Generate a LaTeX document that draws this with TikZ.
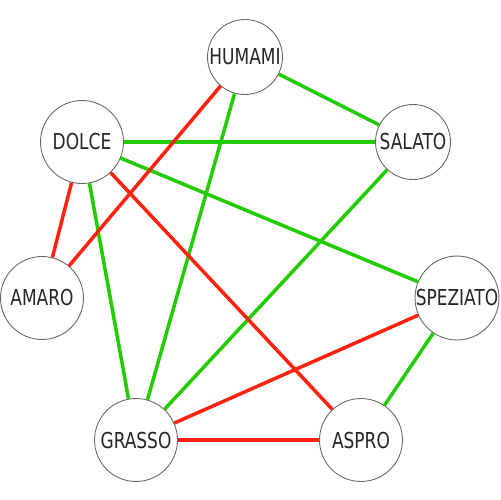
\documentclass[tikz,border=0pt]{standalone}
\usepackage{fontspec}
\setmainfont[FakeStretch=0.86]{DejaVu Sans Condensed}
\usetikzlibrary{positioning}
\definecolor{verde}{HTML}{22CC00}
\definecolor{rosso}{HTML}{FF2211}
\definecolor{testo}{HTML}{262626}
\tikzset{
  gusto/.style={circle, draw=gray!80!black, fill=white, line width=0.5pt, minimum size=1.66cm,
                inner sep=0pt, text=testo, font=\fontsize{12.5}{14}\selectfont},
  gustop/.style={gusto, minimum size=1.5cm},
  buono/.style={line width=2pt, color=verde},
  cattivo/.style={line width=2pt, color=rosso}
}
\begin{document}
\begin{tikzpicture}[x=0.02cm, y=-0.02cm]
  \useasboundingbox (0,0) rectangle (500,500);
  \node (humami) [gustop] at (245,57) {HUMAMI};
  \node (dolce) [gusto] at (82,142) {DOLCE};
  \node (salato) [gustop] at (413,142) {SALATO};
  \node (amaro) [gusto] at (42,298) {AMARO};
  \node (speziato) [gusto] at (457,298) {SPEZIATO};
  \node (grasso) [gusto] at (136,440) {GRASSO};
  \node (aspro) [gusto] at (361,440) {ASPRO};
  % abbinamenti buoni
  \draw [buono] (humami) -- (salato);
  \draw [buono] (dolce) -- (salato);
  \draw [buono] (dolce) -- (speziato);
  \draw [buono] (dolce) -- (grasso);
  \draw [buono] (humami) -- (grasso);
  \draw [buono] (salato) -- (grasso);
  \draw [buono] (speziato) -- (aspro);
  % abbinamenti cattivi
  \draw [cattivo] (humami) -- (amaro);
  \draw [cattivo] (dolce) -- (amaro);
  \draw [cattivo] (dolce) -- (aspro);
  \draw [cattivo] (speziato) -- (grasso);
  \draw [cattivo] (grasso) -- (aspro);
\end{tikzpicture}
\end{document}
